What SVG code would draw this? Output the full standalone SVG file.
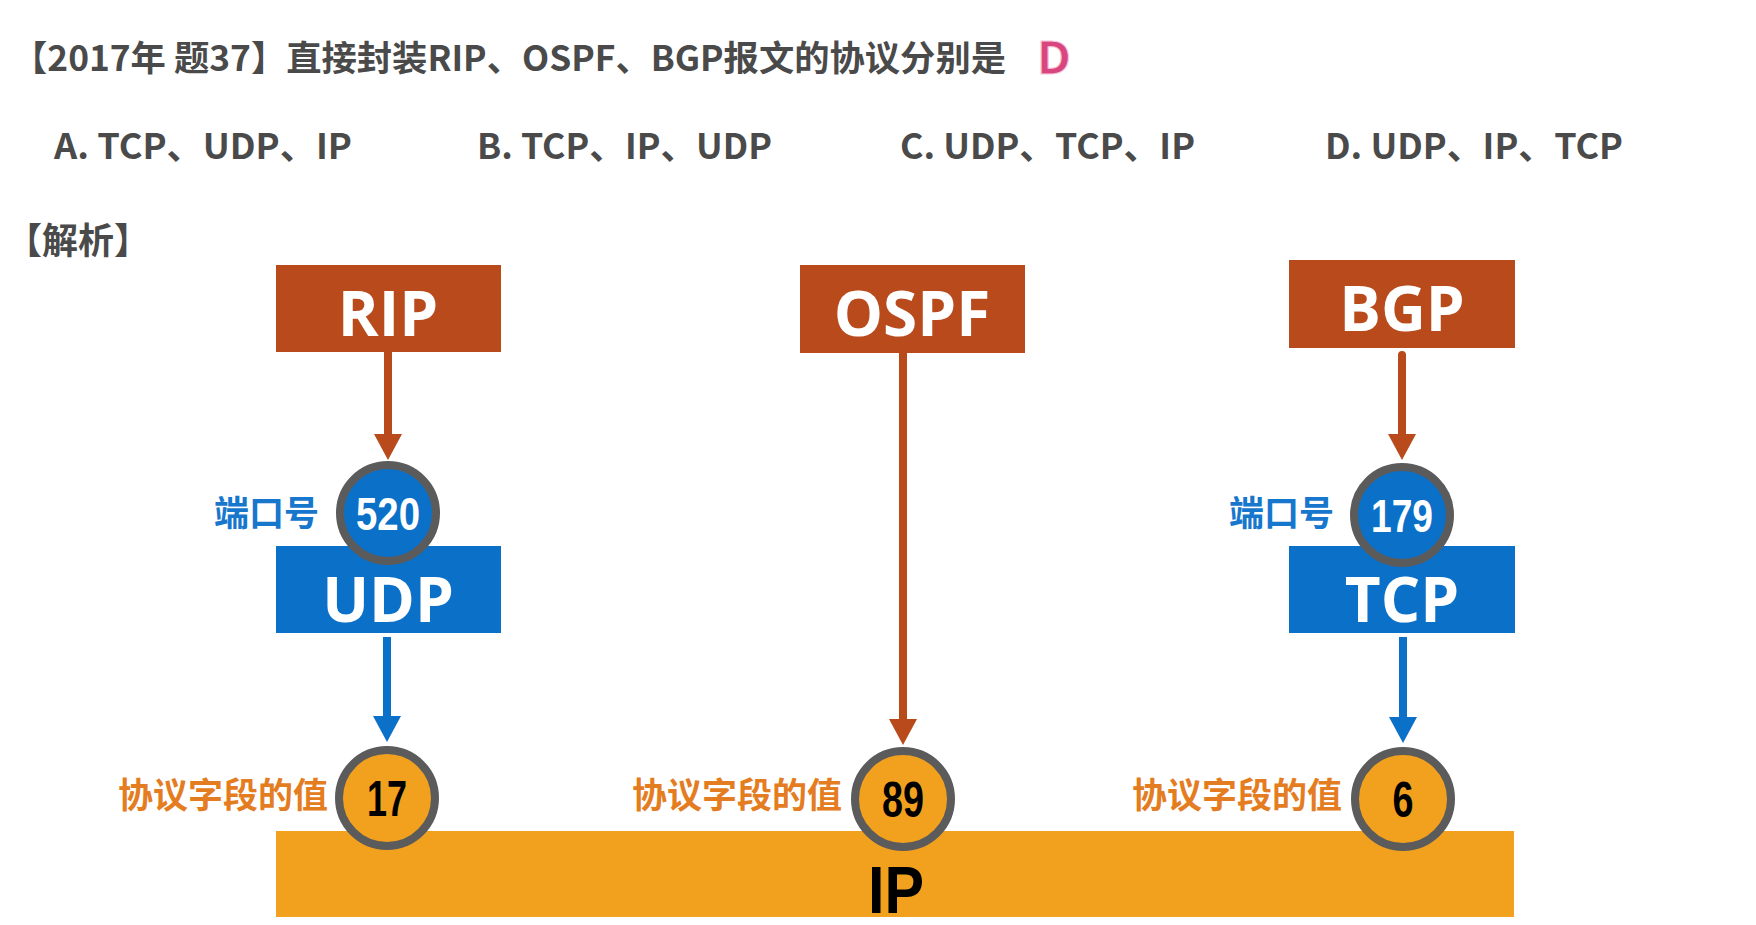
<svg xmlns="http://www.w3.org/2000/svg" width="1756" height="925" viewBox="0 0 1756 925">
<style>
.q{font-family:"Noto Sans CJK SC","Noto Sans",sans-serif;font-weight:bold;fill:#4a4a4a;}
.box{font-family:"Open Sans","Liberation Sans",sans-serif;font-weight:bold;font-size:62px;fill:#fff;text-anchor:middle;}
.num{font-family:"Liberation Sans","Noto Sans",sans-serif;font-weight:bold;text-anchor:middle;}
.lblb{font-family:"Noto Sans CJK SC",sans-serif;font-weight:bold;font-size:35px;fill:#1677cc;text-anchor:end;}
.lblo{font-family:"Noto Sans CJK SC",sans-serif;font-weight:bold;font-size:35px;fill:#e47d22;text-anchor:end;}
.rust{fill:#b84a1c;}
.blue{fill:#0b70c8;}
.orange{fill:#f2a11f;}
.ring{stroke:#5b5b5b;stroke-width:8;}
.cr{stroke:#b84a1c;stroke-width:8;fill:none;}
.cb{stroke:#0b70c8;stroke-width:8;fill:none;}
</style>
<defs>
<marker id="ar" markerUnits="userSpaceOnUse" markerWidth="26" markerHeight="28" viewBox="0 -14 26 28" refX="0" refY="0" orient="auto"><path d="M0,-14 L26,0 L0,14 z" fill="#b84a1c"/></marker>
<marker id="ab" markerUnits="userSpaceOnUse" markerWidth="26" markerHeight="28" viewBox="0 -14 26 28" refX="0" refY="0" orient="auto"><path d="M0,-14 L26,0 L0,14 z" fill="#0b70c8"/></marker>
</defs>
<rect width="1756" height="925" fill="#ffffff"/>

<g id="question">
<text class="q" x="12" y="71" font-size="35" textLength="994" lengthAdjust="spacingAndGlyphs">【2017年 题37】直接封装RIP、OSPF、BGP报文的协议分别是</text>
<text x="1037" y="74" font-family="Open Sans,Liberation Sans,sans-serif" font-weight="bold" font-size="46" fill="#d9467f" stroke="#f6c6d8" stroke-width="1">D</text>
<text class="q" x="54" y="159" font-size="35" textLength="298" lengthAdjust="spacingAndGlyphs">A. TCP、UDP、IP</text>
<text class="q" x="477" y="159" font-size="35" textLength="295" lengthAdjust="spacingAndGlyphs">B. TCP、IP、UDP</text>
<text class="q" x="900" y="159" font-size="35" textLength="295" lengthAdjust="spacingAndGlyphs">C. UDP、TCP、IP</text>
<text class="q" x="1325" y="159" font-size="35" textLength="298" lengthAdjust="spacingAndGlyphs">D. UDP、IP、TCP</text>
<text class="q" x="6" y="254" font-size="36">【解析】</text>
</g>

<g id="ip">
<rect class="orange" x="276" y="831" width="1238" height="86"/>
<text class="num" x="896" y="913" font-size="66" fill="#000" textLength="56" lengthAdjust="spacingAndGlyphs">IP</text>
</g>

<g id="udp"><rect class="blue" x="276" y="546" width="225" height="87"/><text class="box" x="388" y="622">UDP</text></g>
<g id="tcp"><rect class="blue" x="1289" y="546" width="226" height="87"/><text class="box" x="1402" y="622">TCP</text></g>
<g id="rip"><rect class="rust" x="276" y="265" width="225" height="87"/><text class="box" x="388" y="336">RIP</text></g>
<g id="ospf"><rect class="rust" x="800" y="265" width="225" height="88"/><text class="box" x="912" y="336">OSPF</text></g>
<g id="bgp"><rect class="rust" x="1289" y="260" width="226" height="88"/><text class="box" x="1402" y="331">BGP</text></g>

<g id="connectors">
<line class="cr" x1="388" y1="352" x2="388" y2="434" marker-end="url(#ar)"/>
<line class="cr" x1="903" y1="353" x2="903" y2="719" stroke-width="7" marker-end="url(#ar)"/>
<line class="cr" x1="1402" y1="355" x2="1402" y2="434" stroke-linecap="round" marker-end="url(#ar)"/>
<line class="cb" x1="387" y1="637" x2="387" y2="716" marker-end="url(#ab)"/>
<line class="cb" x1="1403" y1="637" x2="1403" y2="717" marker-end="url(#ab)"/>
</g>

<g id="port520">
<circle class="blue ring" cx="388" cy="513" r="48"/>
<text class="num" x="388" y="530" font-size="46" fill="#fff" textLength="64" lengthAdjust="spacingAndGlyphs">520</text>
<text class="lblb" x="319" y="526">端口号</text>
</g>
<g id="port179">
<circle class="blue ring" cx="1402" cy="515" r="48"/>
<text class="num" x="1402" y="532" font-size="46" fill="#fff" textLength="62" lengthAdjust="spacingAndGlyphs">179</text>
<text class="lblb" x="1334" y="526">端口号</text>
</g>
<g id="proto17">
<circle class="orange ring" cx="387" cy="798" r="48"/>
<text class="num" x="387" y="816" font-size="50" fill="#000" textLength="40" lengthAdjust="spacingAndGlyphs">17</text>
<text class="lblo" x="328" y="808">协议字段的值</text>
</g>
<g id="proto89">
<circle class="orange ring" cx="903" cy="799" r="48"/>
<text class="num" x="903" y="817" font-size="50" fill="#000" textLength="42" lengthAdjust="spacingAndGlyphs">89</text>
<text class="lblo" x="842" y="808">协议字段的值</text>
</g>
<g id="proto6">
<circle class="orange ring" cx="1403" cy="799" r="48"/>
<text class="num" x="1403" y="817" font-size="50" fill="#000" textLength="21" lengthAdjust="spacingAndGlyphs">6</text>
<text class="lblo" x="1342" y="808">协议字段的值</text>
</g>
</svg>
